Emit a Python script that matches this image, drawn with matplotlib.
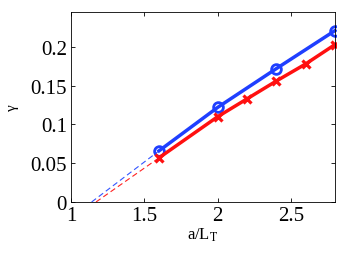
import numpy as np
import matplotlib
matplotlib.use('Agg')
import matplotlib.pyplot as plt

# datos
x_azul = [1.6, 2.0, 2.4, 2.8]
y_azul = [0.066, 0.122, 0.172, 0.221]
x_rojo = [1.6, 2.0, 2.2, 2.4, 2.6, 2.8]
y_rojo = [0.057, 0.110, 0.133, 0.156, 0.178, 0.203]
# extrapolacion a gamma = 0
x_azul_ext = [1.14, 1.6]
y_azul_ext = [0.0, 0.066]
x_rojo_ext = [1.17, 1.6]
y_rojo_ext = [0.0, 0.057]

plt.rcParams['font.family'] = ['Liberation Serif', 'DejaVu Serif']
plt.rcParams['mathtext.fontset'] = 'stix'

fig = plt.figure(figsize=(3.37, 2.55), dpi=100)
ax = fig.add_axes([0.211, 0.204, 0.783, 0.745])

ax.plot(x_azul_ext, y_azul_ext, '--', color='#3355ff', linewidth=0.8, dashes=(5, 3))
ax.plot(x_rojo_ext, y_rojo_ext, '--', color='#ff2222', linewidth=0.8, dashes=(5, 3))
ax.plot(x_azul, y_azul, '-o', color='#1f3fff', linewidth=2.5, markersize=7,
        markerfacecolor='none', markeredgewidth=2, clip_on=False)
ax.plot(x_rojo, y_rojo, '-x', color='#ff1010', linewidth=2.5, markersize=6,
        markeredgewidth=2.3, clip_on=False)

ax.set_xlim(1, 2.8)
ax.set_ylim(0, 0.245)
ax.set_xticks([1, 1.5, 2, 2.5])
ax.set_xticklabels(['1', '1.5', '2', '2.5'])
ax.set_yticks([0, 0.05, 0.1, 0.15, 0.2])
ax.set_yticklabels(['0', '0.05', '0.1', '0.15', '0.2'])
ax.tick_params(direction='in', top=True, right=True, labelsize=15, length=3, width=0.6, pad=3)
for s in ax.spines.values():
    s.set_linewidth(0.6)

ax.set_xlabel('a/L$_\\mathrm{T}$', fontsize=12, labelpad=0)
ax.set_ylabel('γ', fontsize=11, labelpad=8)

fig.savefig('out.png', dpi=100)
